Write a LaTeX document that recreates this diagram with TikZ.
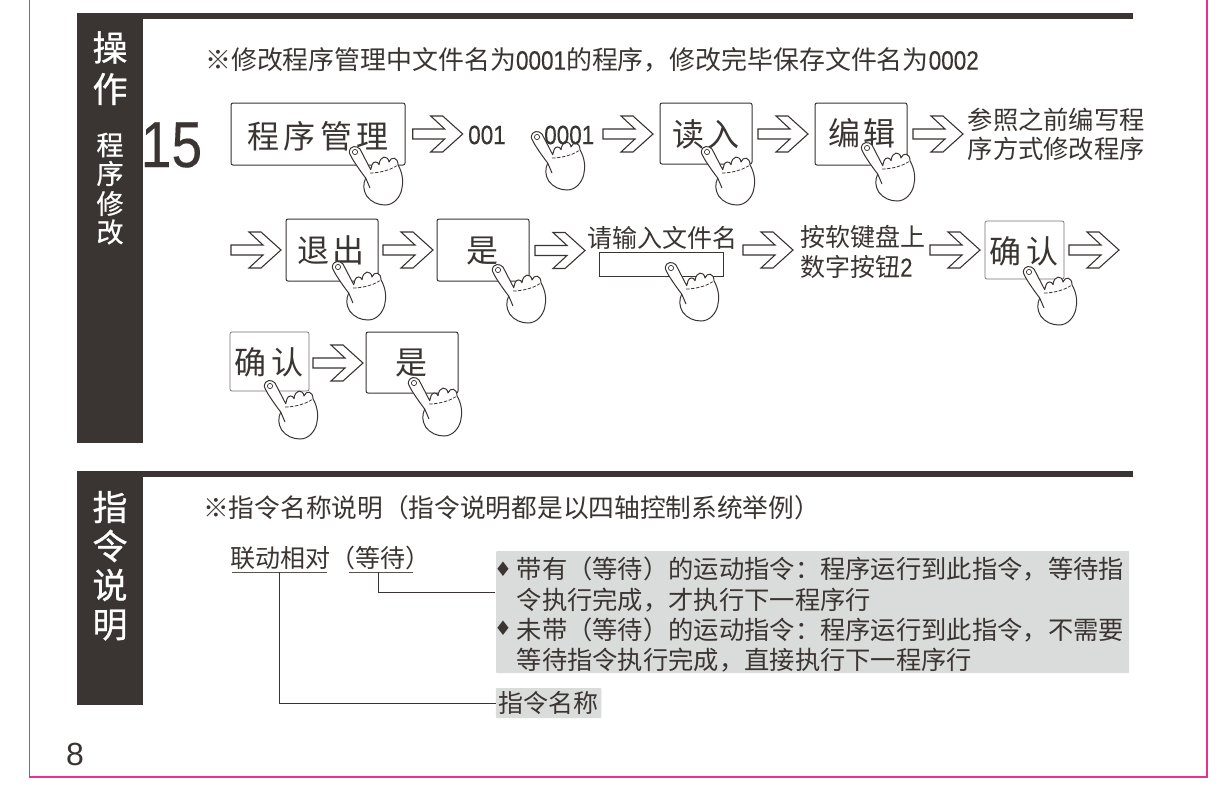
\documentclass[tikz,border=0pt]{standalone}
\usepackage{fontspec}
\setmainfont{Noto Sans CJK SC}
\newfontfamily\medfont[FakeBold=0.8]{Noto Sans CJK SC}
\newfontfamily\dgfont[FakeStretch=0.85,FakeBold=0.25]{Liberation Sans}
\newfontfamily\dgplain{Liberation Sans}
\newfontfamily\symfont{DejaVu Sans}
\newcommand{\fsz}[1]{\fontsize{#1}{#1}\selectfont}
\definecolor{ink}{HTML}{3A3432}
\definecolor{pinkline}{HTML}{E8308F}
\definecolor{noteback}{HTML}{DADCDB}
\tikzset{
  inksty/.style={draw=ink,line width=1pt},
  btn/.style={inksty,rounded corners=2pt,fill=white},
  btnthin/.style={draw=ink!70,line width=.7pt,rounded corners=2pt,fill=white},
  lbl/.style={inner sep=0pt,text=ink},
  lineL/.style={lbl,anchor=west,font=\fsz{25.3}},
  keytxt/.style={lbl,font=\fsz{32}},
  side/.style={inner sep=0pt,text=white,font=\medfont\fsz{35}},
  sidesm/.style={inner sep=0pt,text=white,font=\medfont\fsz{27}},
  chevron/.pic={\draw[draw=ink,line width=1.1pt,fill=white,line join=miter]
     (0,-5)--(32,-5)--(18,-18)--(30,-18)--(50,0)--(30,18)--(18,18)--(32,5)--(0,5)--cycle;},
  handpic/.pic={
    \draw[draw=ink,line width=1pt,fill=white,line join=round]
      (5,-3) .. controls (2,-6.5) and (-5,-7) .. (-5.7,0)
      .. controls (-5.5,4) and (6,20) .. (10.7,26)
      .. controls (8,32) and (8,38) .. (11.7,44)
      .. controls (16,50) and (23,53) .. (30,53)
      .. controls (39,53) and (45,45) .. (46.7,37.7)
      .. controls (48.5,30) and (48,22) .. (43,12.7)
      .. controls (43,5) and (36,4) .. (34,10)
      .. controls (33,3) and (25,3) .. (24,12.7)
      .. controls (23,9) and (18,9) .. (17,13)
      .. controls (16.5,15) and (16,16) .. (15.7,17.7)
      -- cycle;
    \draw[draw=ink,line width=1pt] (10.7,26) -- (15,36);
    \draw[draw=ink,line width=.8pt,dash pattern=on 3.5pt off 1.5pt]
      (15,21) .. controls (22,21) and (34,19) .. (41.7,13.7);
    \draw[draw=ink,line width=.7pt,fill=white] (0,0) circle (2.6);
  }
}
\begin{document}
\begin{tikzpicture}[x=1pt,y=-1pt]
\useasboundingbox (0,0) rectangle (1226,790);
\fill[white] (0,0) rectangle (1226,790);
% page frame
\coordinate (frTL) at (29.5,0);
\coordinate (frBL) at (29.5,777);
\coordinate (frBR) at (1207,777);
\coordinate (frTR) at (1207,0);
\draw[pinkline,line width=1.6pt] (frTL) -- (frBL) -- (frBR) -- (frTR);
% headers
\fill[ink] (77,12.5) rectangle (1133,19);
\fill[ink] (77,12.5) rectangle (143,443);
\fill[ink] (77,471) rectangle (1133,477);
\fill[ink] (77,471) rectangle (143,705);
\node[side] (s1) at (110,47.5) {操};
\node[side] (s2) at (110,89) {作};
\node[sidesm] (s3) at (110,145) {程};
\node[sidesm] (s4) at (110,173.5) {序};
\node[sidesm] (s5) at (110,203.5) {修};
\node[sidesm] (s6) at (110,232) {改};
\node[side] (t1) at (110,507) {指};
\node[side] (t2) at (110,546) {令};
\node[side] (t3) at (110,585) {说};
\node[side] (t4) at (110,625) {明};
% titles
\node[lineL,font=\fsz{25.9}] (title1) at (205,60) {※修改程序管理中文件名为{\dgfont\fsz{26.5}0001}的程序，修改完毕保存文件名为{\dgfont\fsz{26.5}0002}};
\node[lineL,font=\fsz{25.7}] (title2) at (203,508) {※指令名称说明（指令说明都是以四轴控制系统举例）};
\node[lbl,font=\dgfont\fsz{65}] (num) at (171.5,145) {15};
\node[lbl,font=\dgplain\fsz{32}] (pg) at (75,754) {8};
% buttons
\node[btn,minimum width=174pt,minimum height=62pt,inner sep=0pt] (b1) at (318,134) {};
\node[keytxt] (b1t) at (318,136) {程\hspace{4.5pt}序\hspace{4.5pt}管\hspace{4.5pt}理};
\node[btn,minimum width=92pt,minimum height=61pt,inner sep=0pt] (b2) at (706,133.5) {};
\node[keytxt] (b2t) at (706,134) {读\hspace{3pt}入};
\node[btn,minimum width=92pt,minimum height=62pt,inner sep=0pt] (b3) at (861,134) {};
\node[keytxt] (b3t) at (862,133) {编\hspace{3pt}辑};
\node[btn,minimum width=92pt,minimum height=62pt,inner sep=0pt] (b4) at (332,250) {};
\node[keytxt] (b4t) at (331,250) {退\hspace{3pt}出};
\node[btn,minimum width=92pt,minimum height=62pt,inner sep=0pt] (b5) at (483,250) {};
\node[keytxt] (b5t) at (482,251) {是};
\node[draw=ink,line width=1pt,fill=white,minimum width=124pt,minimum height=24pt,inner sep=0pt] (b6) at (661,264) {};
\node[btnthin,minimum width=79pt,minimum height=58pt,inner sep=0pt] (b7) at (1024.5,250) {};
\node[keytxt] (b7t) at (1024,251) {确\hspace{5pt}认};
\node[btnthin,minimum width=79pt,minimum height=59pt,inner sep=0pt] (b8) at (269.5,361.5) {};
\node[keytxt] (b8t) at (269,362) {确\hspace{5pt}认};
\node[btn,minimum width=92pt,minimum height=61pt,inner sep=0pt] (b9) at (412,362.5) {};
\node[keytxt] (b9t) at (411,363) {是};
% free texts
\node[lbl,font=\fsz{25}] (in) at (662,238) {请输入文件名};
\node[lineL,font=\fsz{25}] (k1) at (800,237) {按软键盘上};
\node[lineL,font=\fsz{25}] (k2) at (800,267) {数字按钮{\dgfont\fsz{26}2}};
\node[lineL] (r1) at (967.5,120) {参照之前编写程};
\node[lineL] (r2) at (967.5,149) {序方式修改程序};
\node[lbl,anchor=west,font=\dgfont\fsz{26.5}] (n1) at (468,135) {001};
% arrows
\pic (a1) at (412.7,134) {chevron};
\pic (a2) at (603,134) {chevron};
\pic (a3) at (758,134) {chevron};
\pic (a4) at (913,134) {chevron};
\pic (a5) at (231,250) {chevron};
\pic (a6) at (383,250) {chevron};
\pic (a7) at (535,250.5) {chevron};
\pic (a8) at (743,250) {chevron};
\pic (a9) at (930,250) {chevron};
\pic (a10) at (1069,250) {chevron};
\pic (a11) at (313,363) {chevron};
% hands
\pic (h1) at (355,152) {handpic};
\pic (h2) at (537,137) {handpic};
\pic (h3) at (707,152) {handpic};
\pic (h4) at (867,148) {handpic};
\pic (h5) at (338,267) {handpic};
\pic (h6) at (498,270) {handpic};
\pic (h7) at (671,268) {handpic};
\pic (h8) at (1029,272) {handpic};
\pic (h9) at (270,386) {handpic};
\pic (h10) at (414,383) {handpic};
\node[lbl,anchor=west,font=\dgfont\fsz{26.5}] (n2) at (544,135) {0001};
% instruction section
\node[lineL,font=\fsz{25}] (c1) at (230,558) {联动相对（等待）};
\coordinate (u1a) at (232,572.3);
\coordinate (u1b) at (327,572.3);
\coordinate (u2a) at (349,572.3);
\coordinate (u2b) at (413,572.3);
\coordinate (u1s) at (279.5,572.3);
\coordinate (u2s) at (378,572.3);
\draw[ink!85,line width=1.4pt] (u1a) -- (u1b);
\draw[ink!85,line width=1.4pt] (u2a) -- (u2b);
\fill[noteback,rounded corners=1pt] (496,551) rectangle (1129,673);
\coordinate (noteIn) at (495,592);
\node[lbl,fill=noteback,rounded corners=1pt,minimum width=105.5pt,minimum height=30pt,font=\fsz{25}] (nm) at (548.7,703) {指令名称};
\draw[inksty] (u1s) |- (nm.west);
\draw[inksty] (u2s) |- (noteIn);
\node[lbl,font=\symfont\fsz{20}] (d1) at (503,569) {♦};
\node[lbl,font=\symfont\fsz{20}] (d2) at (503,628) {♦};
\node[lineL] (l1) at (516.5,569) {带有（等待）的运动指令：程序运行到此指令，等待指};
\node[lineL] (l2) at (516.5,600) {令执行完成，才执行下一程序行};
\node[lineL] (l3) at (516.5,630) {未带（等待）的运动指令：程序运行到此指令，不需要};
\node[lineL] (l4) at (516.5,660) {等待指令执行完成，直接执行下一程序行};
\end{tikzpicture}
\end{document}
